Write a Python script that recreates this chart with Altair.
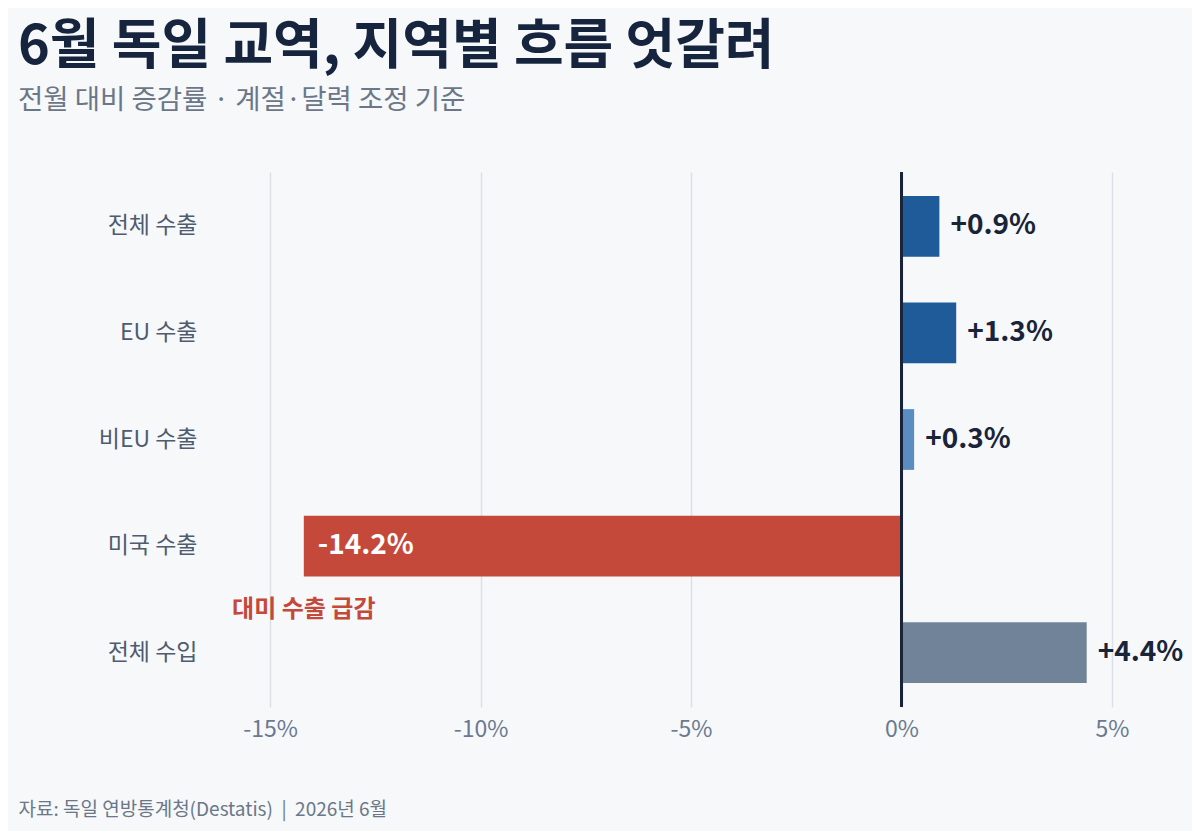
import pandas as pd
import altair as alt

# data
categories = ["전체 수출", "EU 수출", "비EU 수출", "미국 수출", "전체 수입"]
values = [0.9, 1.3, 0.3, -14.2, 4.4]
x_ticks = [-15, -10, -5, 0, 5]
note_category = "미국 수출"
note_text = "대미 수출 급감"

# bar colours, one per category
bar_colors = ["#1f5b99", "#1f5b99", "#5b8ec0", "#c4493b", "#718399"]

FONT = "Noto Sans CJK KR"
INK = "#16253d"
GREY = "#6b7788"
NBSP = "\u00a0"


def make_chart() -> alt.LayerChart:
    df = pd.DataFrame({"category": categories, "value": values})
    df["label"] = [f"{v:+.1f}%" for v in values]
    note_df = df[df["category"] == note_category].assign(note=note_text)

    y_enc = alt.Y(
        "category:N",
        sort=categories,
        title=None,
        scale=alt.Scale(paddingInner=0.43, paddingOuter=0.224),
        axis=alt.Axis(
            domain=False, ticks=False, grid=False,
            labelFont=FONT, labelFontSize=23, labelColor="#4f5b6e",
            labelPadding=10,
        ),
    )
    x_scale = alt.Scale(domain=[-16.5, 5.5], nice=False, zero=False)

    base = alt.Chart(df)

    # source line sits in the x axis title slot, pushed to the left edge
    footer = f"자료: 독일 연방통계청(Destatis){NBSP*2}|{NBSP*2}2026년 6월"

    bars = base.mark_bar().encode(
        x=alt.X(
            "value:Q",
            scale=x_scale,
            title=footer,
            axis=alt.Axis(
                values=x_ticks, labelExpr="datum.value + '%'",
                domain=False, ticks=False,
                grid=True, gridColor="#dde1e7", gridWidth=1.5,
                labelFont=FONT, labelFontSize=23, labelColor="#6b7890",
                labelPadding=11,
                titleFont=FONT, titleFontSize=19, titleFontWeight="normal",
                titleColor=GREY, titleX=-189, titleY=108,
                titleAlign="left", titleBaseline="alphabetic",
            ),
        ),
        x2=alt.datum(0),
        y=y_enc,
        color=alt.Color(
            "category:N",
            scale=alt.Scale(domain=categories, range=bar_colors),
            legend=None,
        ),
    )

    pos_labels = (
        base.transform_filter("datum.value >= 0")
        .mark_text(align="left", baseline="middle", dx=11,
                   font=FONT, fontSize=28, fontWeight="bold", color="#1a2438")
        .encode(x="value:Q", y=alt.Y("category:N", sort=categories), text="label:N")
    )

    neg_labels = (
        base.transform_filter("datum.value < 0")
        .mark_text(align="left", baseline="middle", dx=14,
                   font=FONT, fontSize=28, fontWeight="bold", color="white")
        .encode(x="value:Q", y=alt.Y("category:N", sort=categories), text="label:N")
    )

    note = (
        alt.Chart(note_df)
        .mark_text(align="center", baseline="middle", dy=64,
                   font=FONT, fontSize=24, fontWeight="bold", color="#c4493b")
        .encode(x="value:Q", y=alt.Y("category:N", sort=categories), text="note:N")
    )

    zero = base.mark_rule(color="#1a2438", strokeWidth=2.5).encode(x=alt.datum(0))

    chart = (bars + pos_labels + neg_labels + note + zero).properties(
        width=926,
        height=535,
        autosize=alt.AutoSizeParams(type="none"),
        padding={"left": 199, "top": 164, "right": 59, "bottom": 124},
        title=alt.TitleParams(
            text="6월 독일 교역, 지역별 흐름 엇갈려",
            subtitle="전월 대비 증감률 · 계절·달력 조정 기준",
            anchor="start", frame="group", dx=-189, offset=56,
            font=FONT, fontSize=54, fontWeight="bold", color=INK,
            subtitleFont=FONT, subtitleFontSize=27.5, subtitleColor=GREY,
            subtitlePadding=12,
        ),
    )
    return chart


def main():
    chart = make_chart().configure(background="#f6f8fa").configure_view(stroke=None)
    chart.save("out.html", embed_options={"renderer": "svg", "actions": False})


if __name__ == "__main__":
    main()
